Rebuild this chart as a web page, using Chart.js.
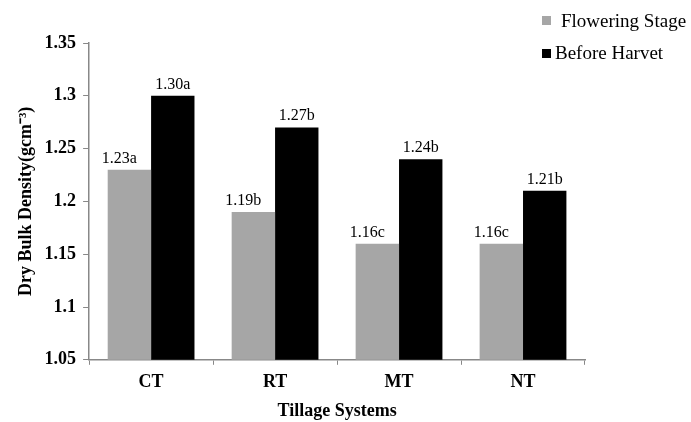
<!DOCTYPE html>
<html><head><meta charset="utf-8">
<script src="https://cdn.jsdelivr.net/npm/chart.js@4/dist/chart.umd.min.js"></script>
<style>html,body{margin:0;padding:0;background:#fff}#wrap{width:691px;height:422px;position:relative}</style>
</head><body><div id="wrap"><canvas id="c" width="691" height="422"></canvas></div>
<script>
const categories = ["CT", "RT", "MT", "NT"];
const flowering = [1.23, 1.19, 1.16, 1.16];
const beforeHarvest = [1.30, 1.27, 1.24, 1.21];
const floweringLabels = ["1.23a", "1.19b", "1.16c", "1.16c"];
const harvestLabels = ["1.30a", "1.27b", "1.24b", "1.21b"];
const yTicks = [1.05, 1.1, 1.15, 1.2, 1.25, 1.3, 1.35];

const SERIF = "'Liberation Serif', 'Times New Roman', serif";

const labelPlugin = {
  id: 'barLabels',
  afterDatasetsDraw(chart) {
    const ctx = chart.ctx;
    const all = [floweringLabels, harvestLabels];
    ctx.save();
    ctx.font = "16px " + SERIF;
    ctx.fillStyle = "#000";
    ctx.textAlign = "center";
    ctx.textBaseline = "alphabetic";
    chart.data.datasets.forEach((ds, di) => {
      chart.getDatasetMeta(di).data.forEach((bar, i) => {
        ctx.fillText(all[di][i], bar.x - (di === 0 ? 10 : 0), bar.y - 7);
      });
    });
    ctx.restore();
  }
};

const legendPlugin = {
  id: 'customLegend',
  afterDraw(chart) {
    const ctx = chart.ctx;
    ctx.save();
    ctx.font = "19px " + SERIF;
    ctx.textBaseline = "alphabetic";
    ctx.textAlign = "left";
    const items = [
      {x: 542, y: 16, tx: 561, base: 27},
      {x: 542, y: 49, tx: 555, base: 59}
    ];
    chart.data.datasets.forEach((ds, i) => {
      const it = items[i];
      ctx.fillStyle = ds.backgroundColor;
      ctx.fillRect(it.x, it.y, 9, 9);
      ctx.fillStyle = "#000";
      ctx.fillText(ds.label, it.tx, it.base);
    });
    ctx.restore();
  }
};

new Chart(document.getElementById('c'), {
  type: 'bar',
  data: {
    labels: categories,
    datasets: [
      {label: "Flowering Stage", data: flowering, backgroundColor: "#a6a6a6"},
      {label: "Before Harvet", data: beforeHarvest, backgroundColor: "#000000"}
    ]
  },
  options: {
    responsive: false,
    animation: false,
    devicePixelRatio: 1,
    layout: {padding: {top: 43, right: 106, left: 0, bottom: 0}},
    plugins: {legend: {display: false}, tooltip: {enabled: false}},
    datasets: {bar: {categoryPercentage: 0.7, barPercentage: 1.0}},
    scales: {
      x: {
        grid: {display: true, drawOnChartArea: false, drawTicks: true, tickLength: 5, color: "#888", offset: true},
        border: {color: "#888", width: 1.5},
        ticks: {color: "#000", font: {family: SERIF, size: 18, weight: "bold"}, padding: 7},
        title: {display: true, text: "Tillage Systems", color: "#000", font: {family: SERIF, size: 18, weight: "bold"}, padding: {top: 0, bottom: 0}}
      },
      y: {
        min: 1.05, max: 1.35,
        afterBuildTicks(axis) { axis.ticks = yTicks.map(v => ({value: v})); },
        grid: {display: true, drawOnChartArea: false, drawTicks: true, tickLength: 6, color: "#888"},
        border: {color: "#888", width: 1.5},
        ticks: {color: "#000", font: {family: SERIF, size: 18, weight: "bold"}, padding: 7,
          callback: (v) => String(Math.round(v * 100) / 100)},
        title: {display: true, text: "Dry Bulk Density(gcm\u207B\u00B3)", color: "#000", font: {family: SERIF, size: 18, weight: "bold"}, padding: {top: 16, bottom: 0}}
      }
    }
  },
  plugins: [labelPlugin, legendPlugin]
});
</script></body></html>
